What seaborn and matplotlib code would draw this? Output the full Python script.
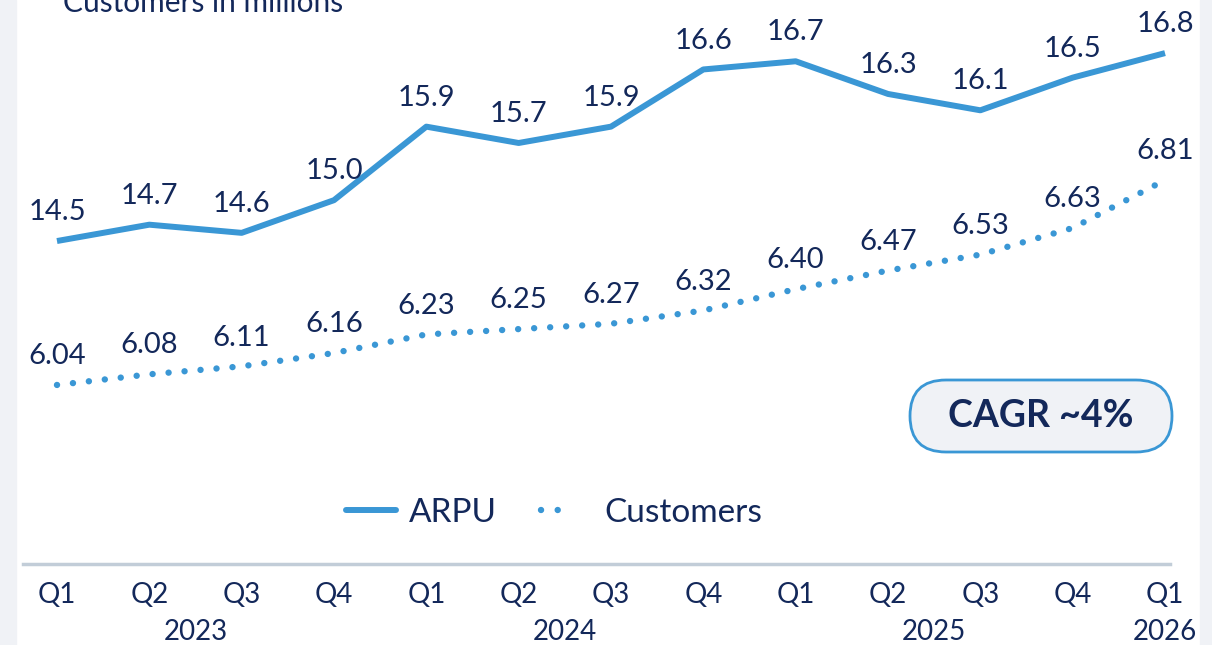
import matplotlib
matplotlib.use("Agg")
import matplotlib.pyplot as plt
import matplotlib.transforms as mtransforms
from matplotlib.lines import Line2D
from matplotlib.patches import FancyBboxPatch, Rectangle
import pandas as pd
import seaborn as sns

quarters = ["Q1", "Q2", "Q3", "Q4", "Q1", "Q2", "Q3", "Q4", "Q1", "Q2", "Q3", "Q4", "Q1"]
years = ["2023", "2024", "2025", "2026"]
year_pos = [1.5, 5.5, 9.5, 12]
arpu = [14.5, 14.7, 14.6, 15.0, 15.9, 15.7, 15.9, 16.6, 16.7, 16.3, 16.1, 16.5, 16.8]
customers = [6.04, 6.08, 6.11, 6.16, 6.23, 6.25, 6.27, 6.32, 6.40, 6.47, 6.53, 6.63, 6.81]

BLUE = "#3A97D5"
NAVY = "#13285A"
BG = "#F0F2F6"

df = pd.DataFrame({"idx": range(len(quarters)), "ARPU": arpu, "Customers": customers})

sns.set_theme(style="white")
plt.rcParams["font.family"] = ["Lato", "DejaVu Sans"]

fig = plt.figure(figsize=(12.12, 6.45), dpi=100)
fig.patch.set_facecolor("white")
# grey side strips of the slide
fig.patches.append(Rectangle((0, 0), 16 / 1212, 1, transform=fig.transFigure, color=BG, zorder=0))
fig.patches.append(Rectangle((1200 / 1212, 0), 12 / 1212, 1, transform=fig.transFigure, color=BG, zorder=0))

ax = fig.add_axes([23 / 1212, 81 / 645, 1147 / 1212, 564 / 645])
ax.patch.set_alpha(0)
ax2 = ax.twinx()

dots = (0, (0.01, 2.5))
sns.lineplot(data=df, x="idx", y="ARPU", ax=ax, color=BLUE, linewidth=4.3,
             solid_capstyle="butt", legend=False)
sns.lineplot(data=df, x="idx", y="Customers", ax=ax2, color=BLUE, linewidth=4.6,
             linestyle=dots, dash_capstyle="round", legend=False)

ax.set_xlim(-0.368, 12.054)
ax.set_ylim(10.547, 17.45)
ax2.set_ylim(5.367, 7.487)

for i, v in enumerate(arpu):
    ax.annotate(f"{v:.1f}", (i, v), xytext=(0, 15), textcoords="offset points",
                ha="center", va="baseline", fontsize=21, color=NAVY)
for i, v in enumerate(customers):
    ax2.annotate(f"{v:.2f}", (i, v), xytext=(0, 15), textcoords="offset points",
                 ha="center", va="baseline", fontsize=21, color=NAVY)

for a in (ax, ax2):
    a.set_xlabel("")
    a.set_ylabel("")
    a.set_yticks([])
    for s in ["top", "left", "right"]:
        a.spines[s].set_visible(False)
ax2.spines["bottom"].set_visible(False)
ax.spines["bottom"].set_color("#C2CDD8")
ax.spines["bottom"].set_linewidth(2.5)

ax.set_xticks(range(len(quarters)))
ax.set_xticklabels(quarters, fontsize=20, color=NAVY)
ax.tick_params(axis="x", length=0, pad=13)

trans = mtransforms.blended_transform_factory(ax.transData, fig.transFigure)
for y, p in zip(years, year_pos):
    ax.text(p, 1 - 632 / 645, y, transform=trans, ha="center", va="center",
            fontsize=20, color=NAVY)

fig.text(63 / 1212, 1 - 12 / 645, "Customers in millions", ha="left", va="baseline",
         fontsize=21.5, color=NAVY)

handles = [
    Line2D([], [], color=BLUE, linewidth=4.3, solid_capstyle="round"),
    Line2D([], [], color=BLUE, linewidth=4.6, linestyle=(0, (0.01, 2.6, 0.01, 12)),
           dash_capstyle="round"),
]
fig.legend(handles, ["ARPU", "Customers"], loc="center", bbox_to_anchor=(0.457, 1 - 513 / 645),
           ncol=2, frameon=False, fontsize=24, handlelength=1.5, handletextpad=0.4,
           columnspacing=1.3, labelcolor=NAVY)

# CAGR pill, drawn in inches so the rounding stays circular
box = FancyBboxPatch((9.10, 1.93), 2.62, 0.72,
                     boxstyle="round,pad=0,rounding_size=0.36", transform=fig.dpi_scale_trans,
                     facecolor=BG, edgecolor=BLUE, linewidth=2)
fig.patches.append(box)
fig.text(1041 / 1212, 1 - 416 / 645, "CAGR ~4%", ha="center", va="center",
         fontsize=27, fontweight="bold", color=NAVY)

fig.savefig("out.png", dpi=100)
